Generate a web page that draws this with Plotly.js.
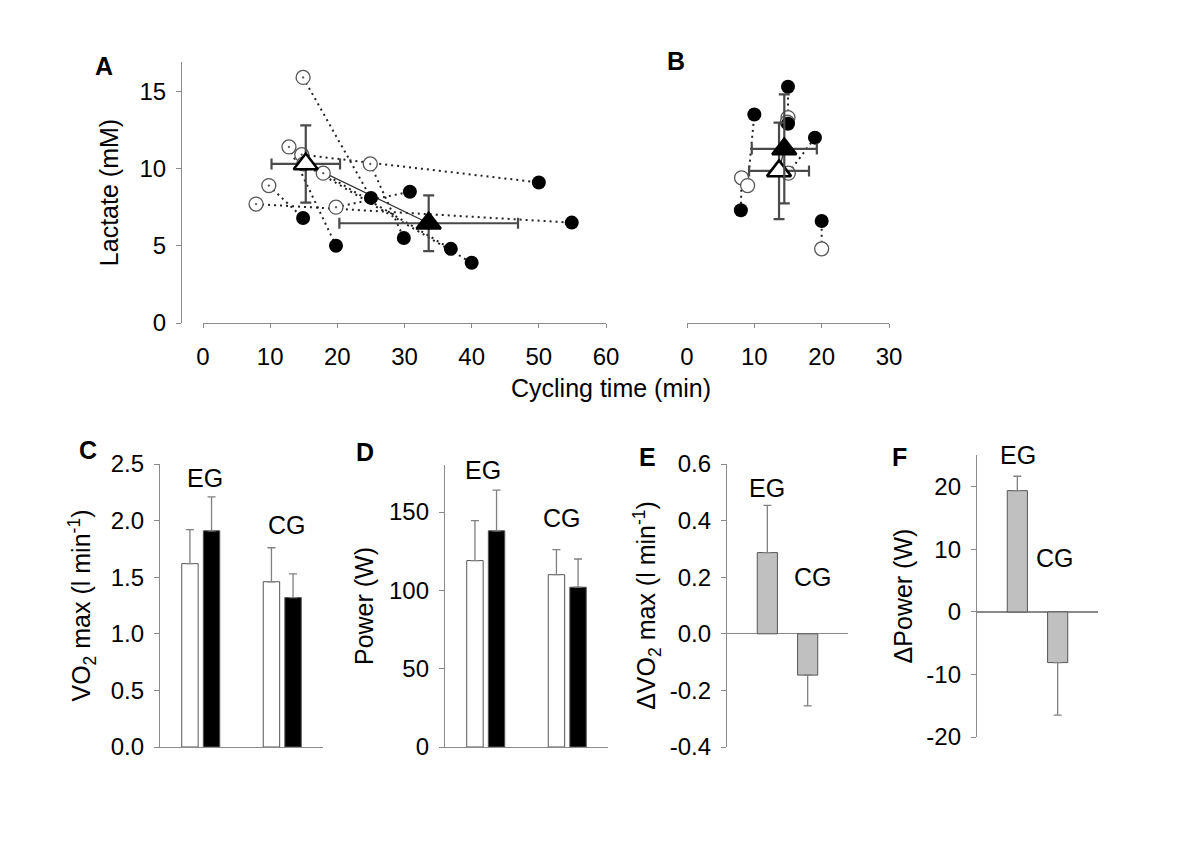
<!DOCTYPE html>
<html>
<head>
<meta charset="utf-8">
<script src="https://cdn.plot.ly/plotly-3.0.1.min.js"></script>
<style>html,body{margin:0;padding:0;background:#fff;}#chart{width:1200px;height:848px;}</style>
</head>
<body>
<div id="chart"></div>
<script>
// ---------- Panel A (EG): individual values, pre (open) paired with post (filled) by index
const aPreTime  = [14.9, 24.9, 14.7, 12.8, 9.8, 7.9, 19.8, 17.9, 15.0];
const aPreLac   = [15.9, 10.3, 10.9, 11.4, 8.9, 7.7, 7.5, 9.7, 10.3];
const aPostTime = [25.0, 29.9, 50.0, 19.8, 14.9, 54.9, 30.8, 36.9, 40.0];
const aPostLac  = [8.1, 5.5, 9.1, 5.0, 6.8, 6.5, 8.5, 4.8, 3.9];
// means (pre, post) and SD
const aMeanTime = [15.3, 33.6];
const aMeanLac  = [10.3, 6.46];
const aSdTime   = [5.1, 13.3];
const aSdLac    = [2.5, 1.8];

// ---------- Panel B (CG)
const bPreTime  = [15.0, 14.9, 8.1, 9.0, 15.05, 20.0];
const bPreLac   = [13.3, 13.0, 9.4, 8.9, 9.7, 4.8];
const bPostTime = [15.0, 15.0, 8.0, 10.0, 19.0, 20.0];
const bPostLac  = [15.3, 12.9, 7.3, 13.5, 12.0, 6.6];
const bMeanTime = [13.67, 14.45];
const bMeanLac  = [9.85, 11.27];
const bSdTime   = [4.45, 4.83];
const bSdLac    = [3.12, 3.53];

// ---------- Panels C-F
const groups      = ["EG", "CG"];
const vo2Pre      = [1.62, 1.46];
const vo2PreSd    = [0.30, 0.30];
const vo2Post     = [1.91, 1.32];
const vo2PostSd   = [0.30, 0.21];
const powerPre    = [119, 110];
const powerPreSd  = [25.5, 16];
const powerPost   = [138, 102];
const powerPostSd = [26, 18];
const dVo2        = [0.287, -0.146];
const dVo2Sd      = [0.167, 0.109];
const dPower      = [19.4, -8.1];
const dPowerSd    = [2.3, 8.4];

// tick labels
const aXTicks = [0, 10, 20, 30, 40, 50, 60];
const bXTicks = [0, 10, 20, 30];
const lacTicks = [0, 5, 10, 15];
const vo2Ticks = [0, 0.5, 1.0, 1.5, 2.0, 2.5];
const vo2TickText = ["0.0", "0.5", "1.0", "1.5", "2.0", "2.5"];
const powTicks = [0, 50, 100, 150];
const dVo2Ticks = [-0.4, -0.2, 0, 0.2, 0.4, 0.6];
const dVo2TickText = ["-0.4", "-0.2", "0.0", "0.2", "0.4", "0.6"];
const dPowTicks = [-20, -10, 0, 10, 20];
const dPowTickText = ["-20", "-10", "0", "10", "20"];

// ---------- helpers
const W = 1200, H = 848;
const fx = p => p / W;
const fy = p => 1 - p / H;
const FONT = "Liberation Sans, Arial, Helvetica, sans-serif";
const AXC = "#8a8a8a";
const TF = 24;   // tick labels
const TTF = 25;  // axis titles
const LF = 25;   // EG / CG labels

function pairLines(x0, y0, x1, y1, xa, ya) {
  const x = [], y = [];
  for (let i = 0; i < x0.length; i++) { x.push(x0[i], x1[i], null); y.push(y0[i], y1[i], null); }
  return {type: "scatter", mode: "lines", x, y, xaxis: xa, yaxis: ya, hoverinfo: "skip",
          line: {color: "#222", width: 2, dash: "2px,4px"}, showlegend: false};
}
function pts(x, y, xa, ya, open, dot) {
  return {type: "scatter", mode: "markers", x, y, xaxis: xa, yaxis: ya, showlegend: false,
    marker: open ? {symbol: dot ? "circle-dot" : "circle", size: 14, color: "#fff", line: {color: "#555", width: 1.3}}
                 : {symbol: "circle", size: 14, color: "#000", line: {color: "#000", width: 0}}};
}
function meanTri(mx, my, sx, sy, i, xa, ya) {
  return {type: "scatter", mode: "markers", x: [mx[i]], y: [my[i]], xaxis: xa, yaxis: ya, showlegend: false,
    error_x: {type: "data", array: [sx[i]], color: "#4a4a4a", thickness: 2.2, width: 5.5},
    error_y: {type: "data", array: [sy[i]], color: "#4a4a4a", thickness: 2.2, width: 5.5},
    marker: {symbol: "triangle-up", size: 21, color: i === 0 ? "#fff" : "#000", line: {color: "#000", width: 2.5}}};
}
function meanLine(mx, my, xa, ya) {
  return {type: "scatter", mode: "lines", x: mx, y: my, xaxis: xa, yaxis: ya, showlegend: false,
          line: {color: "#333", width: 1.3}};
}
function upErr(vals, sd) { return vals.map((v, i) => v >= 0 ? sd[i] : 0); }
function downErr(vals, sd) { return vals.map((v, i) => v < 0 ? sd[i] : 0); }
function barTrace(vals, sd, xa, ya, fill, extra) {
  return Object.assign({type: "bar", x: groups, y: vals, xaxis: xa, yaxis: ya, showlegend: false,
    marker: {color: fill, line: {color: "#555", width: 1}},
    error_y: {type: "data", symmetric: false, array: upErr(vals, sd), arrayminus: downErr(vals, sd),
              color: "#808080", thickness: 1.3, width: 4}}, extra || {});
}

const data = [
  // Panel A
  pairLines(aPreTime, aPreLac, aPostTime, aPostLac, "x", "y"),
  meanLine(aMeanTime, aMeanLac, "x", "y"),
  pts(aPreTime, aPreLac, "x", "y", true, true),
  pts(aPostTime, aPostLac, "x", "y", false),
  meanTri(aMeanTime, aMeanLac, aSdTime, aSdLac, 0, "x", "y"),
  meanTri(aMeanTime, aMeanLac, aSdTime, aSdLac, 1, "x", "y"),
  // Panel B
  pairLines(bPreTime, bPreLac, bPostTime, bPostLac, "x2", "y2"),
  meanLine(bMeanTime, bMeanLac, "x2", "y2"),
  pts(bPreTime, bPreLac, "x2", "y2", true, false),
  pts(bPostTime, bPostLac, "x2", "y2", false),
  meanTri(bMeanTime, bMeanLac, bSdTime, bSdLac, 0, "x2", "y2"),
  meanTri(bMeanTime, bMeanLac, bSdTime, bSdLac, 1, "x2", "y2"),
  // Panel C
  barTrace(vo2Pre, vo2PreSd, "x3", "y3", "#fff"),
  barTrace(vo2Post, vo2PostSd, "x3", "y3", "#000"),
  // Panel D
  barTrace(powerPre, powerPreSd, "x4", "y4", "#fff"),
  barTrace(powerPost, powerPostSd, "x4", "y4", "#000"),
  // Panel E
  barTrace(dVo2, dVo2Sd, "x5", "y5", "#c0c0c0", {width: 0.5}),
  // Panel F
  barTrace(dPower, dPowerSd, "x6", "y6", "#c0c0c0", {width: 0.5})
];

const tickFont = {family: FONT, size: TF, color: "#000"};
const titleFont = {family: FONT, size: TTF, color: "#000"};
function yax(domain, range, tickvals, ticktext, title, standoff, extra) {
  return Object.assign({domain, range, tickvals, ticktext, tickfont: tickFont,
    showline: true, linecolor: AXC, linewidth: 1.2, ticks: "outside", ticklen: 5, tickcolor: AXC,
    showgrid: false, zeroline: false, ticklabelstandoff: 5, fixedrange: true,
    title: {text: title, font: titleFont, standoff}}, extra || {});
}
function xbar(domain, anchor, range, showline) {
  return {domain, anchor, type: "category", range, showline, linecolor: AXC, linewidth: 1.2,
          tickmode: "array", tickvals: [], ticks: "", showticklabels: false,
          showgrid: false, zeroline: false, fixedrange: true};
}

const ann = (t, x, y, bold, size) => ({text: bold ? "<b>" + t + "</b>" : t, x: fx(x), y: fy(y), xref: "paper", yref: "paper",
  showarrow: false, xanchor: "center", yanchor: "middle", font: {family: FONT, size: size || LF, color: "#000"}});

const layout = {
  width: W, height: H, autosize: false,
  margin: {l: 0, r: 0, t: 0, b: 0, pad: 0},
  paper_bgcolor: "#fff", plot_bgcolor: "rgba(0,0,0,0)",
  font: {family: FONT, color: "#000"},
  barmode: "group", bargap: 0.47, bargroupgap: 0.24,
  showlegend: false,
  // Panel A
  xaxis: {domain: [fx(203), fx(606)], anchor: "y", range: [0, 60], tickvals: aXTicks, tickfont: tickFont,
          showline: true, linecolor: AXC, linewidth: 1.2, ticks: "outside", ticklen: 4, tickcolor: AXC,
          showgrid: false, zeroline: false, ticklabelstandoff: 8, fixedrange: true},
  yaxis: yax([fy(323), fy(62)], [0, 16.9], lacTicks, null, "Lactate (mM)", 12,
             {anchor: "free", position: fx(181)}),
  // Panel B
  xaxis2: {domain: [fx(687), fx(889)], anchor: "y2", range: [0, 30], tickvals: bXTicks, tickfont: tickFont,
           showline: true, linecolor: AXC, linewidth: 1.2, ticks: "outside", ticklen: 4, tickcolor: AXC,
           showgrid: false, zeroline: false, ticklabelstandoff: 8, fixedrange: true},
  yaxis2: {domain: [fy(323), fy(62)], anchor: "x2", range: [0, 16.9], visible: false, fixedrange: true},
  // Panel C
  xaxis3: xbar([fx(160), fx(323)], "y3", [-0.5, 1.5], true),
  yaxis3: yax([fy(747), fy(464)], [0, 2.5], vo2Ticks, vo2TickText, "VO<sub>2</sub> max (l min<sup>-1</sup>)", 12, {anchor: "x3"}),
  // Panel D
  xaxis4: xbar([fx(445), fx(608)], "y4", [-0.5, 1.5], true),
  yaxis4: yax([fy(747), fy(465)], [0, 180], powTicks, null, "Power (W)", 8, {anchor: "x4"}),
  // Panel E
  xaxis5: xbar([fx(727), fx(848)], "y5", [-1, 2], false),
  yaxis5: yax([fy(747), fy(464)], [-0.4, 0.6], dVo2Ticks, dVo2TickText, "ΔVO<sub>2</sub> max (l min<sup>-1</sup>)", 6,
              {anchor: "x5", zeroline: true, zerolinecolor: AXC, zerolinewidth: 1.2}),
  // Panel F
  xaxis6: xbar([fx(977), fx(1098)], "y6", [-1, 2], false),
  yaxis6: yax([fy(737), fy(455)], [-20, 25.1], dPowTicks, dPowTickText, "ΔPower (W)", 6,
              {anchor: "x6", zeroline: true, zerolinecolor: AXC, zerolinewidth: 1.2}),
  annotations: [
    ann("A", 104, 66, true, 25), ann("B", 676, 61, true, 25), ann("C", 88, 450, true, 25),
    ann("D", 365, 452, true, 25), ann("E", 647, 457, true, 25), ann("F", 899, 457, true, 25),
    ann("Cycling time (min)", 611, 388, false, TTF),
    ann("EG", 205, 478), ann("CG", 287, 525),
    ann("EG", 483, 470), ann("CG", 562, 518),
    ann("EG", 767, 488), ann("CG", 813, 577),
    ann("EG", 1018, 455), ann("CG", 1055, 558)
  ]
};

Plotly.newPlot("chart", data, layout, {staticPlot: true, displayModeBar: false});
</script>
</body>
</html>
